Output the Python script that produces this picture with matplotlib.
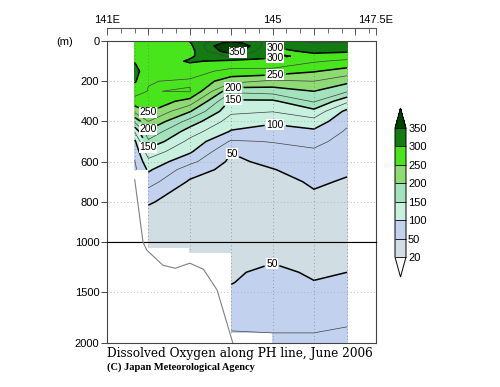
import numpy as np
import matplotlib
matplotlib.use('Agg')
import matplotlib.pyplot as plt
from matplotlib.colors import ListedColormap, BoundaryNorm
from matplotlib.ticker import FixedLocator, FixedFormatter

plt.rcParams['font.family'] = ['Liberation Sans', 'DejaVu Sans']

nan = np.nan

# stations along the PH line (longitude) and sampled depths (m)
lon = [141.67, 142.0, 143.0, 144.0, 145.0, 146.0, 146.8]
depth = [0, 10, 25, 50, 75, 100, 150, 200, 250, 300, 350, 400, 450, 500, 550, 600, 640,
         700, 800, 900, 1000, 1050, 1100, 1200, 1300, 1400, 1500, 1600, 1700, 1800, 1900, 2000]

# dissolved oxygen (umol/kg) profile at each station
do_st1 = [285, 285, 287, 290, 293, 298, 312, 303, 285, 265, 232, 180, 128, 95, 82, 74, 70,
          nan, nan, nan, nan, nan, nan, nan, nan, nan, nan, nan, nan, nan, nan, nan]
do_st2 = [280, 281, 283, 285, 284, 282, 278, 276, 274, 268, 252, 225, 195, 170, 140, 118, 104,
          85, 52, 40, 33, 31, nan, nan, nan, nan, nan, nan, nan, nan, nan, nan]
do_st3 = [301, 298, 293, 290, 296, 303, 285, 272, 277, 240, 202, 165, 138, 118, 104, 82, 62,
          47, 40, 36, 34, 34, 35, nan, nan, nan, nan, nan, nan, nan, nan, nan]
do_st4 = [345, 365, 390, 372, 330, 294, 268, 235, 180, 145, 130, 113, 98, 72, 51, 45, 42,
          40, 37, 35, 35, 36, 38, 42, 46, 49, 54, 60, 66, 71, 76, nan]
do_st5 = [318, 310, 302, 292, 306, 292, 268, 220, 186, 145, 126, 104, 90, 76, 66, 56, 49,
          42, 36, 33, 33, 35, 38, 49, 57, 60, 62, 65, 68, 71, 75, 80]
do_st6 = [330, 325, 318, 306, 292, 278, 252, 225, 200, 178, 142, 116, 95, 81, 72, 65, 60,
          53, 45, 38, 34, 34, 35, 40, 46, 51, 57, 62, 67, 71, 75, 79]
do_st7 = [330, 322, 315, 304, 286, 270, 240, 207, 178, 130, 93, 80, 72, 67, 62, 57, 53,
          48, 43, 39, 37, 37, 38, 44, 50, 55, 59, 63, 67, 73, 78, 82]
station_bottom = [640, 1050, 1100, 1900, 2000, 2000, 2000]

# bottom topography
topo_lon = [141.67, 141.87, 141.96, 142.35, 142.65, 143.0, 143.33, 143.66, 144.04]
topo_depth = [690, 1000, 1080, 1230, 1260, 1210, 1270, 1475, 2000]

levels = [20, 50, 100, 150, 200, 250, 300, 350]
thin_levels = [75, 125, 175, 225, 275, 325]
fill_colors = ['#d0dde3', '#c2d2ee', '#c8f0de', '#a2e2bc', '#8edb74', '#48e41c', '#127c12']
under_color = '#ffffff'
over_color = '#004400'

# labelled contours (lon, depth)
label_pos_upper = [(144.13, 32), (145.07, 33), (145.07, 90), (145.07, 172), (141.96, 375),
                   (144.04, 229), (141.96, 443), (144.04, 289), (141.96, 532),
                   (145.07, 408), (144.04, 552)]
label_pos_lower = [(144.98, 1208)]

data = np.ma.masked_invalid(np.array([do_st1, do_st2, do_st3, do_st4,
                                      do_st5, do_st6, do_st7]).T)
X, Y = np.meshgrid(lon, depth)

cmap = ListedColormap(fill_colors)
cmap.set_under(under_color)
cmap.set_over(over_color)
norm = BoundaryNorm(levels, cmap.N)

fig = plt.figure(figsize=(5, 3.87), dpi=100)
ax1 = fig.add_axes([0.214, 0.3747, 0.538, 0.5193])
ax2 = fig.add_axes([0.214, 0.1137, 0.538, 0.261])


def draw_section(ax, ylim, label_pos):
    cf = ax.contourf(X, Y, data, levels=levels, cmap=cmap, norm=norm, extend='both',
                     corner_mask=False)
    ax.contour(X, Y, data, levels=thin_levels, colors='#404040', linewidths=0.5,
               corner_mask=False)
    cs = ax.contour(X, Y, data, levels=levels[1:], colors='k', linewidths=1.1,
                    corner_mask=False)
    ax.vlines(lon, 0, station_bottom, colors='#666666', linestyles=(0, (1, 4)),
              linewidths=0.5, zorder=2)
    ax.plot(topo_lon, topo_depth, color='#808080', lw=0.8, zorder=3)
    ax.set_xlim(141, 147.5)
    ax.set_ylim(ylim)
    ax.set_xticks([])
    ax.grid(axis='y', linestyle=(0, (1, 3)), color='#aaaaaa', lw=0.6)
    ax.tick_params(axis='y', direction='out', length=4, width=0.7, pad=1.5,
                   labelsize=8, color='#444444')
    for s in ax.spines.values():
        s.set_color('#444444')
        s.set_linewidth(0.8)
    txts = ax.clabel(cs, manual=label_pos, inline=True, inline_spacing=2, fmt='%d',
                     fontsize=7.5)
    for t in txts:
        t.set_rotation(0)
        t.set_bbox(dict(facecolor='white', edgecolor='none', pad=0.3))
    return cf


cf = draw_section(ax1, (1000, 0), label_pos_upper)
ax1.set_yticks([0, 200, 400, 600, 800])
draw_section(ax2, (2000, 1000), label_pos_lower)
ax2.set_yticks([1000, 1500, 2000])
ax1.spines['bottom'].set_color('k')
ax2.spines['top'].set_color('k')

# longitude axis on top
axt = fig.add_axes([0.214, 0.894, 0.538, 0.0336])
axt.patch.set_visible(False)
for side in ['bottom', 'left', 'right']:
    axt.spines[side].set_visible(False)
axt.spines['top'].set_color('#555555')
axt.spines['top'].set_linewidth(0.8)
axt.set_xlim(141, 147.5)
axt.set_yticks([])
axt.xaxis.set_ticks_position('top')
axt.xaxis.set_major_locator(FixedLocator([141, 142, 143, 144, 145, 146, 147, 147.5]))
axt.xaxis.set_major_formatter(FixedFormatter(['141E', '', '', '', '145', '', '', '147.5E']))
axt.xaxis.set_minor_locator(FixedLocator(np.arange(141, 147.5, 1 / 3)))
axt.tick_params(axis='x', which='major', direction='in', length=5, width=0.7,
                labelsize=8, pad=2, color='#555555')
axt.tick_params(axis='x', which='minor', direction='in', length=3.5, width=0.6,
                color='#555555')

fig.text(65 / 500, 1 - 42 / 387, '(m)', ha='center', va='center', fontsize=8)

# colour bar
cax = fig.add_axes([0.79, 0.2842, 0.022, 0.4367])
cb = fig.colorbar(cf, cax=cax, ticks=levels, extendfrac=0.155, drawedges=True)
cb.outline.set_linewidth(0.7)
cb.dividers.set_linewidth(0.6)
cb.ax.tick_params(length=0, labelsize=8, pad=1.5)

fig.text(0.214, 1 - 357 / 387, 'Dissolved Oxygen along PH line, June 2006',
         family='DejaVu Serif', fontsize=8.7, va='baseline')
fig.text(0.214, 1 - 370 / 387, '(C) Japan Meteorological Agency',
         family='Liberation Serif', fontweight='bold', fontsize=7.5, va='baseline')

fig.savefig('out.png', dpi=100)
